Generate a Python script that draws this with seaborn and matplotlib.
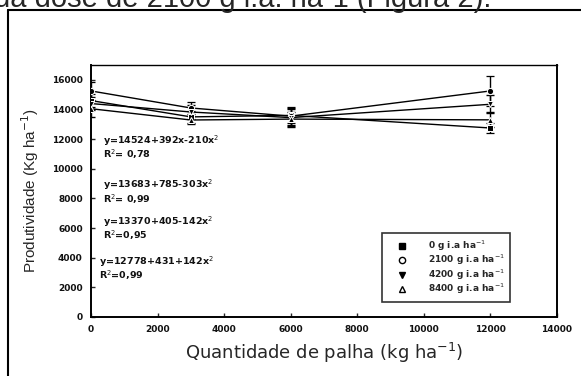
"""
Produtividade vs quantidade de palha, one line per herbicide dose,
with error bars and the fitted equations written in the plot.
"""
import numpy as np
import pandas as pd
import seaborn as sns
import matplotlib.pyplot as plt
from matplotlib.lines import Line2D

# Data
PALHA = [0, 3000, 6000, 12000]
DOSES = ["0 g i.a ha$^{-1}$", "2100 g i.a ha$^{-1}$",
         "4200 g i.a ha$^{-1}$", "8400 g i.a ha$^{-1}$"]
PROD_0 = [14600, 13500, 13600, 12750]
PROD_2100 = [15250, 14100, 13550, 15250]
PROD_4200 = [14400, 13830, 13450, 14350]
PROD_8400 = [14050, 13290, 13350, 13300]
ERR_0 = [450, 400, 500, 350]
ERR_2100 = [600, 400, 600, 1000]
ERR_4200 = [450, 450, 550, 600]
ERR_8400 = [550, 300, 500, 500]

EQUATIONS = [
    "y=14524+392x-210x$^{2}$\nR$^{2}$= 0,78",
    "y=13683+785-303x$^{2}$\nR$^{2}$= 0,99",
    "y=13370+405-142x$^{2}$\nR$^{2}$=0,95",
    "y=12778+431+142x$^{2}$\nR$^{2}$=0,99",
]
EQ_POS = [(350, 11450), (350, 8450), (350, 6000), (250, 3300)]

X_TICKS = [0, 2000, 4000, 6000, 8000, 10000, 12000, 14000]
Y_TICKS = [0, 2000, 4000, 6000, 8000, 10000, 12000, 14000, 16000]

MARKERS = ["s", "o", "v", "^"]
FACES = ["black", "white", "black", "white"]

PLOT_CONFIG = {
    "save_as": "out.png",
    "x_label": "Quantidade de palha (kg ha$^{-1}$)",
    "y_label": "Produtividade (Kg ha$^{-1}$)",
    "header": "da dose de 2100 g i.a. ha-1 (Figura 2).",
}

SMALL = ["DejaVu Sans"]


def build_frame():
    values = [PROD_0, PROD_2100, PROD_4200, PROD_8400]
    errors = [ERR_0, ERR_2100, ERR_4200, ERR_8400]
    rows = []
    for dose, vals, errs in zip(DOSES, values, errors):
        for x, v, e in zip(PALHA, vals, errs):
            rows.append({"palha": x, "prod": v, "err": e, "dose": dose})
    return pd.DataFrame(rows)


def plot(df):
    sns.set_style("ticks")
    plt.rcParams["font.family"] = ["Liberation Sans", "DejaVu Sans"]

    fig = plt.figure(figsize=(5.81, 3.76), dpi=100)
    ax = fig.add_axes([91 / 581, 1 - 317 / 376, 466 / 581, 252 / 376])

    # error bars first so the lines and markers sit on top
    for dose in DOSES:
        sub = df[df["dose"] == dose]
        ax.errorbar(sub["palha"], sub["prod"], yerr=sub["err"], fmt="none",
                    ecolor="black", elinewidth=1.0, capsize=2.8, capthick=1.0,
                    zorder=2)

    sns.lineplot(data=df, x="palha", y="prod", hue="dose", style="dose",
                 hue_order=DOSES, style_order=DOSES,
                 palette=["black"] * 4, dashes=False, markers=MARKERS,
                 linewidth=1.0, markersize=4.5, legend=False, ax=ax, zorder=3)
    for line, face in zip(ax.get_lines(), FACES):
        line.set_markerfacecolor(face)
        line.set_markeredgecolor("black")
        line.set_markeredgewidth(0.9)

    for txt, (x, y) in zip(EQUATIONS, EQ_POS):
        ax.text(x, y, txt, fontsize=6.8, fontweight="bold", family=SMALL,
                va="center", ha="left", linespacing=1.0, color="#111111")

    ax.set_xlim(0, 14000)
    ax.set_ylim(0, 17000)
    ax.set_xticks(X_TICKS)
    ax.set_yticks(Y_TICKS)
    ax.tick_params(direction="in", length=3, width=1, labelsize=6.5, pad=6)
    for lab in ax.get_xticklabels() + ax.get_yticklabels():
        lab.set_family(SMALL)
        lab.set_fontweight("bold")
        lab.set_color("#111111")
    for side in ["left", "bottom", "top", "right"]:
        ax.spines[side].set_visible(True)
        ax.spines[side].set_color("black")
    ax.spines["left"].set_linewidth(1.4)
    ax.spines["bottom"].set_linewidth(1.4)
    ax.spines["top"].set_linewidth(1.0)
    ax.spines["right"].set_linewidth(1.4)

    ax.set_xlabel(PLOT_CONFIG["x_label"], fontsize=13, family=SMALL,
                  labelpad=5)
    ax.set_ylabel(PLOT_CONFIG["y_label"], fontsize=11,
                  family=["Liberation Sans Narrow", "Liberation Sans"],
                  labelpad=8)

    handles = [Line2D([], [], marker=m, color="black", markerfacecolor=f,
                      markersize=4.5, linestyle="none")
               for m, f in zip(MARKERS, FACES)]
    leg = ax.legend(handles, DOSES, loc="upper left",
                    bbox_to_anchor=(0.624, 0.333),
                    prop={"family": SMALL, "size": 6.5, "weight": "bold"},
                    frameon=True, fancybox=False, handletextpad=1.3,
                    labelspacing=0.0, borderpad=0.6, handlelength=3.2,
                    borderaxespad=0)
    leg.get_frame().set_edgecolor("black")
    leg.get_frame().set_linewidth(1.2)
    leg.get_frame().set_boxstyle("square", pad=0.0)

    # page frame and the cut-off sentence above it
    fx = 8 / 581
    fy = 1 - 10 / 376
    fig.add_artist(Line2D([fx, 1], [fy, fy], color="black", lw=1.5))
    fig.add_artist(Line2D([fx, fx], [0, fy], color="black", lw=1.5))
    fig.text(-6 / 581, 1 - 7 / 376, PLOT_CONFIG["header"], fontsize=21,
             va="baseline", ha="left")

    fig.savefig(PLOT_CONFIG["save_as"], dpi=100)


def main():
    df = build_frame()
    plot(df)
    print("Plot saved: {}".format(PLOT_CONFIG["save_as"]))


if __name__ == "__main__":
    main()
